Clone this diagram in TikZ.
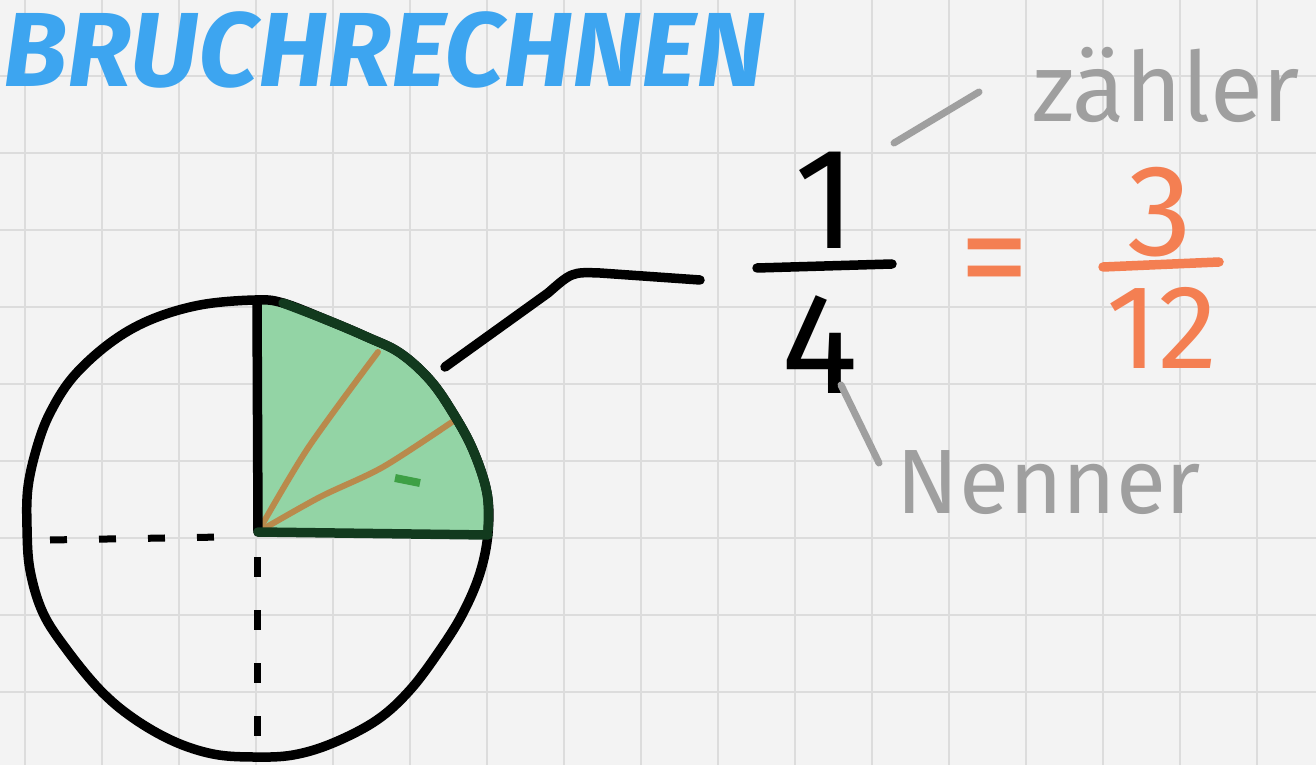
\documentclass[tikz,border=0pt]{standalone}
\usepackage{fontspec}
\setsansfont{Fira Sans}
\usepackage{tikz}
\definecolor{paper}{HTML}{F3F3F3}
\definecolor{gridgray}{HTML}{DCDCDC}
\definecolor{titleblue}{HTML}{3DA5F0}
\definecolor{labelgray}{HTML}{9F9F9F}
\definecolor{orangeink}{HTML}{F47F52}
\definecolor{sectorgreen}{HTML}{93D4A5}
\definecolor{edgegreen}{HTML}{123A1E}
\definecolor{raybrown}{HTML}{B98A4C}

\begin{document}
\begin{tikzpicture}[x=0.1mm,y=-0.1mm,every node/.style={font=\sffamily,inner sep=0pt},
	pen/.style={line width=0.95mm,line cap=round,line join=round},
	gridline/.style={gridgray,line width=0.25mm},
	digit/.style={font=\sffamily\fontsize{41}{41}\selectfont},
	pointer/.style={labelgray,line width=0.7mm,line cap=round},
	handlabel/.style={labelgray,font=\sffamily\fontsize{27.5}{27.5}\selectfont}]
	\fill[paper] (0,0) rectangle (1316,765);
	\useasboundingbox (0,0) rectangle (1316,765);
	\foreach \gx in {25,102,...,1257} {\draw[gridline] (\gx,0) -- (\gx,765);}
	\foreach \gy in {76,153,...,692} {\draw[gridline] (0,\gy) -- (1316,\gy);}
	\node[titleblue,anchor=west,font=\sffamily\bfseries\itshape\fontsize{30}{30}\selectfont] (title) at (3,50) {BRUCHRECHNEN};
	\coordinate (hub) at (258,532);
	\fill[sectorgreen] (hub) -- plot[smooth,tension=0.6] coordinates {(257,302) (283,303) (327,320) (367,337) (400,353) (430,380) (453,413) (473,450) (487,493) (488,533)} -- cycle;
	\draw[raybrown,line width=0.6mm,line cap=round] plot[smooth] coordinates {(hub) (308,448) (378,352)};
	\draw[raybrown,line width=0.6mm,line cap=round] plot[smooth] coordinates {(hub) (320,497) (383,467) (455,420)};
	\draw[sectorgreen!60!green!70!black,line width=0.8mm] (395,478) -- (420,483);
	\draw[pen] plot[smooth cycle,tension=0.6] coordinates {(255,300) (283,303) (327,320) (367,337) (400,353) (430,380) (453,413) (473,450) (487,493) (488,533) (480,573) (463,613) (440,650) (410,690) (377,720) (333,743) (293,755) (253,757) (213,754) (173,741) (133,718) (100,690) (67,650) (43,613) (30,570) (27,527) (28,487) (37,447) (50,413) (73,377) (110,343) (150,320) (200,305)};
	\draw[pen,edgegreen] plot[smooth,tension=0.6] coordinates {(283,303) (327,320) (367,337) (400,353) (430,380) (453,413) (473,450) (487,493) (488,530)};
	\draw[pen] (hub) -- (257,300);
	\draw[pen,edgegreen] (hub) -- (488,535);
	\draw[line width=0.7mm,dash pattern=on 1.7mm off 3.2mm] (50,540) -- (222,537);
	\draw[line width=0.7mm,dash pattern=on 2mm off 3.3mm] (257,557) -- (257,740);
	\coordinate (arcpt) at (445,367);
	\coordinate (tail) at (700,280);
	\draw[pen] (arcpt) -- (548,293) .. controls (572,272) .. (600,273) -- (tail);
	\node[digit] (one) at (826,200) {1};
	\draw[pen] (757,268) -- (892,264);
	\node[digit] (four) at (820,345) {4};
	\node[orangeink,font=\sffamily\fontsize{40}{40}\selectfont] (eq) at (995,272) {=};
	\node[orangeink,font=\sffamily\fontsize{37}{37}\selectfont] (three) at (1160,212) {3};
	\draw[pen,orangeink] (1103,267) -- (1219,262);
	\node[orangeink,font=\sffamily\fontsize{34}{34}\selectfont] (twelve) at (1162,328) {12};
	\node[handlabel] (zaehler) at (1166,85) {zähler};
	\node[handlabel,font=\sffamily\fontsize{26}{26}\selectfont] (nenner) at (1049,483) {Nenner};
	\coordinate (zstart) at (894,143);
	\coordinate (zend) at (979,92);
	\coordinate (nstart) at (841,385);
	\coordinate (nend) at (879,463);
	\draw[pointer] (zstart) -- (zend);
	\draw[pointer] (nstart) -- (nend);
\end{tikzpicture}
\end{document}
